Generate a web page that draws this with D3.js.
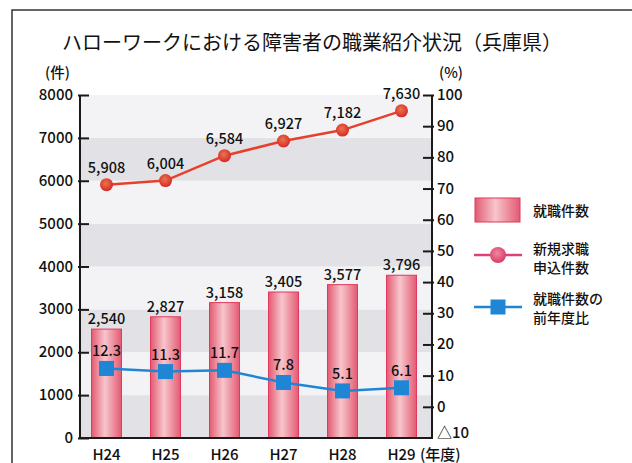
<!DOCTYPE html>
<html>
<head>
<meta charset="utf-8">
<script src="https://cdn.jsdelivr.net/npm/d3@7"></script>
<style>
  body { margin: 0; background: #fff; }
  text { font-family: "Noto Sans CJK JP", "Noto Sans", sans-serif; fill: #111; font-weight: 500; }
</style>
</head>
<body>
<svg id="chart"></svg>
<script>
const width = 632;
const height = 463;

// データ
const years = ['H24', 'H25', 'H26', 'H27', 'H28', 'H29'];
const shushoku = [2540, 2827, 3158, 3405, 3577, 3796];      // 就職件数
const shinki = [5908, 6004, 6584, 6927, 7182, 7630];        // 新規求職申込件数
const zennenhi = [12.3, 11.3, 11.7, 7.8, 5.1, 6.1];         // 就職件数の前年度比
const leftTicks = [0, 1000, 2000, 3000, 4000, 5000, 6000, 7000, 8000];
const rightTicks = [-10, 0, 10, 20, 30, 40, 50, 60, 70, 80, 90, 100];

const svg = d3.select('#chart')
  .attr('width', width)
  .attr('height', height);

// 外枠
svg.append('path')
  .attr('d', 'M12,463 V10 H632')
  .attr('fill', 'none')
  .attr('stroke', '#333')
  .attr('stroke-width', 1.5);

const x = d3.scaleBand().domain(years).range([77, 431]);
const yL = d3.scaleLinear().domain([0, 8000]).range([438, 95]);
const yR = d3.scaleLinear().domain([-10, 100]).range([438, 95]);
const cx = d => x(d) + x.bandwidth() / 2;

const defs = svg.append('defs');
const grad = defs.append('linearGradient')
  .attr('id', 'barGrad')
  .attr('x1', '0%').attr('x2', '100%').attr('y1', '0%').attr('y2', '0%');
grad.append('stop').attr('offset', '0%').attr('stop-color', '#e35a72');
grad.append('stop').attr('offset', '45%').attr('stop-color', '#f7c6cc');
grad.append('stop').attr('offset', '100%').attr('stop-color', '#e35a72');

const dotGrad = defs.append('radialGradient')
  .attr('id', 'dotGrad').attr('cx', '45%').attr('cy', '40%').attr('r', '60%');
dotGrad.append('stop').attr('offset', '0%').attr('stop-color', '#e8784a');
dotGrad.append('stop').attr('offset', '100%').attr('stop-color', '#d8262a');

const legDotGrad = defs.append('radialGradient')
  .attr('id', 'legDotGrad').attr('cx', '45%').attr('cy', '40%').attr('r', '60%');
legDotGrad.append('stop').attr('offset', '0%').attr('stop-color', '#ec8aa0');
legDotGrad.append('stop').attr('offset', '100%').attr('stop-color', '#dc3a66');

// 背景のしま模様
const bandVals = leftTicks.slice(0, -1);
svg.append('g')
  .selectAll('rect')
  .data(bandVals)
  .enter().append('rect')
  .attr('x', 80)
  .attr('width', 432 - 80)
  .attr('y', d => yL(d + 1000))
  .attr('height', d => yL(d) - yL(d + 1000))
  .attr('fill', (d, i) => i % 2 === 0 ? '#e2e2e6' : '#f3f3f5');

// 棒グラフ
svg.append('g')
  .selectAll('rect')
  .data(shushoku)
  .enter().append('rect')
  .attr('x', (d, i) => cx(years[i]) - 15)
  .attr('width', 30)
  .attr('y', d => yL(d))
  .attr('height', d => yL(0) - yL(d))
  .attr('fill', 'url(#barGrad)')
  .attr('stroke', '#e0385e')
  .attr('stroke-width', 1);

svg.append('g')
  .selectAll('text')
  .data(shushoku)
  .enter().append('text')
  .attr('x', (d, i) => cx(years[i]))
  .attr('y', d => yL(d) - 5)
  .attr('text-anchor', 'middle')
  .attr('font-size', 14.5)
  .text(d => d3.format(',')(d));

// 新規求職申込件数
const lineL = d3.line()
  .x((d, i) => cx(years[i]))
  .y(d => yL(d));
svg.append('path')
  .datum(shinki)
  .attr('d', lineL)
  .attr('fill', 'none')
  .attr('stroke', '#e6402c')
  .attr('stroke-width', 2.5);
svg.append('g')
  .selectAll('circle')
  .data(shinki)
  .enter().append('circle')
  .attr('cx', (d, i) => cx(years[i]))
  .attr('cy', d => yL(d))
  .attr('r', 6.5)
  .attr('fill', 'url(#dotGrad)');
svg.append('g')
  .selectAll('text')
  .data(shinki)
  .enter().append('text')
  .attr('x', (d, i) => cx(years[i]))
  .attr('y', d => yL(d) - 12)
  .attr('text-anchor', 'middle')
  .attr('font-size', 14.5)
  .text(d => d3.format(',')(d));

// 前年度比
const lineR = d3.line()
  .x((d, i) => cx(years[i]))
  .y(d => yR(d));
svg.append('path')
  .datum(zennenhi)
  .attr('d', lineR)
  .attr('fill', 'none')
  .attr('stroke', '#1f86d6')
  .attr('stroke-width', 2.5);
svg.append('g')
  .selectAll('rect')
  .data(zennenhi)
  .enter().append('rect')
  .attr('x', (d, i) => cx(years[i]) - 7.5)
  .attr('y', d => yR(d) - 7.5)
  .attr('width', 15)
  .attr('height', 15)
  .attr('fill', '#1f86d6');
svg.append('g')
  .selectAll('text')
  .data(zennenhi)
  .enter().append('text')
  .attr('x', (d, i) => cx(years[i]))
  .attr('y', d => yR(d) - 12)
  .attr('text-anchor', 'middle')
  .attr('font-size', 14.5)
  .text(d => d.toFixed(1));

// 軸
const axisColor = '#1a1a1a';
const leftAxis = svg.append('g')
  .attr('transform', 'translate(80,0)')
  .call(d3.axisRight(yL).tickValues(leftTicks).tickSize(9).tickFormat(''));
leftAxis.select('.domain').remove();
leftAxis.selectAll('line').attr('stroke', axisColor).attr('stroke-width', 2).attr('x1', -2);
svg.append('g')
  .selectAll('text')
  .data(leftTicks)
  .enter().append('text')
  .attr('x', 73)
  .attr('y', d => yL(d) + 5)
  .attr('text-anchor', 'end')
  .attr('font-size', 15)
  .text(d => d);

const rightAxis = svg.append('g')
  .attr('transform', 'translate(432,0)')
  .call(d3.axisLeft(yR).tickValues(rightTicks.slice(1)).tickSize(9).tickFormat(''));
rightAxis.select('.domain').remove();
rightAxis.selectAll('line').attr('stroke', axisColor).attr('stroke-width', 2).attr('x1', 2);
svg.append('g')
  .selectAll('text')
  .data(rightTicks)
  .enter().append('text')
  .attr('x', 437)
  .attr('y', d => d < 0 ? yR(d) : yR(d) + 5)
  .attr('font-size', 15)
  .text(d => d < 0 ? '△' + Math.abs(d) : d);

svg.append('path')
  .attr('d', 'M80,95 V438 H432 V95')
  .attr('fill', 'none')
  .attr('stroke', axisColor)
  .attr('stroke-width', 2);

// x軸ラベル
svg.append('g')
  .selectAll('text')
  .data(years)
  .enter().append('text')
  .attr('x', d => cx(d))
  .attr('y', 460)
  .attr('text-anchor', 'middle')
  .attr('font-size', 15)
  .text(d => d);
svg.append('text').attr('x', 420).attr('y', 460).attr('font-size', 15).text('(年度)');

// 単位
svg.append('text').attr('x', 45).attr('y', 78).attr('font-size', 14.5).text('(件)');
svg.append('text').attr('x', 439).attr('y', 78).attr('font-size', 14.5).text('(%)');

// タイトル
svg.append('text')
  .attr('x', 62)
  .attr('y', 50)
  .attr('font-size', 20)
  .style('font-weight', 400)
  .text('ハローワークにおける障害者の職業紹介状況（兵庫県）');

// 凡例
const leg = svg.append('g');
leg.append('rect')
  .attr('x', 475).attr('y', 198).attr('width', 45).attr('height', 24)
  .attr('fill', 'url(#barGrad)').attr('stroke', '#e0385e');
leg.append('text').attr('x', 533).attr('y', 216).attr('font-size', 14).text('就職件数');

leg.append('line')
  .attr('x1', 474).attr('x2', 522).attr('y1', 255).attr('y2', 255)
  .attr('stroke', '#e0407a').attr('stroke-width', 2.5);
leg.append('circle')
  .attr('cx', 498).attr('cy', 255).attr('r', 8)
  .attr('fill', 'url(#legDotGrad)');
leg.append('text').attr('x', 533).attr('y', 254).attr('font-size', 14).text('新規求職');
leg.append('text').attr('x', 533).attr('y', 273).attr('font-size', 14).text('申込件数');

leg.append('line')
  .attr('x1', 474).attr('x2', 522).attr('y1', 307).attr('y2', 307)
  .attr('stroke', '#1f86d6').attr('stroke-width', 2.5);
leg.append('rect')
  .attr('x', 490.5).attr('y', 299.5).attr('width', 15).attr('height', 15)
  .attr('fill', '#1f86d6');
leg.append('text').attr('x', 533).attr('y', 304).attr('font-size', 14).text('就職件数の');
leg.append('text').attr('x', 533).attr('y', 323).attr('font-size', 14).text('前年度比');
</script>
</body>
</html>
